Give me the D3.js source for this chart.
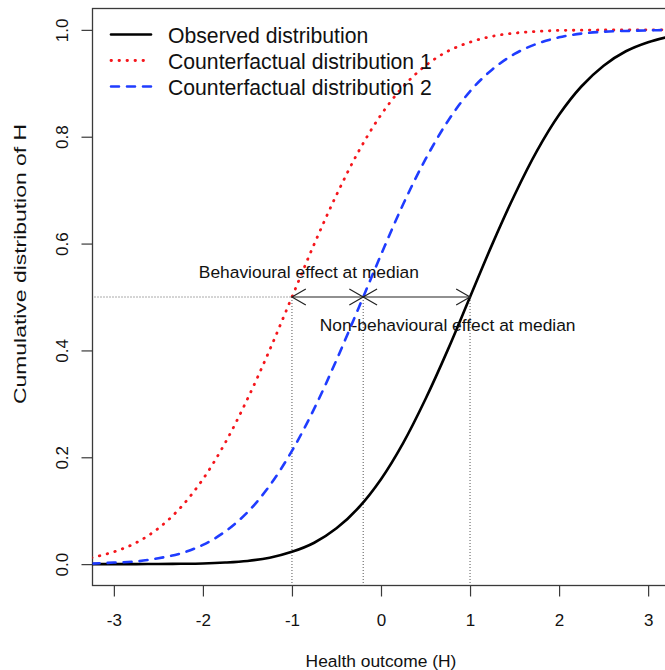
<!DOCTYPE html>
<html><head><meta charset="utf-8">
<script src="https://cdn.jsdelivr.net/npm/d3@7"></script>
<style>
html,body{margin:0;padding:0;background:#fff;}
svg{display:block;font-family:"Liberation Sans",Arial,sans-serif;}
</style></head>
<body><svg id="chart" width="665" height="670"></svg>
<script>
// ---- data ----
const gridH = [-3.25,-3,-2.75,-2.5,-2.25,-2,-1.75,-1.5,-1.25,-1,-0.75,-0.5,-0.25,0,0.25,0.5,0.75,1,1.25,1.5,1.75,2,2.25,2.5,2.75,3,3.25];
const observed = [0.0000,0.0000,0.0001,0.0002,0.0006,0.0013,0.003,0.006,0.012,0.023,0.040,0.067,0.106,0.159,0.227,0.309,0.401,0.500,0.599,0.691,0.773,0.841,0.894,0.933,0.960,0.977,0.988];
const counterfactual1 = [0.012,0.023,0.040,0.067,0.106,0.159,0.227,0.309,0.401,0.500,0.599,0.691,0.773,0.841,0.894,0.933,0.960,0.977,0.988,0.994,0.997,0.999,0.9994,0.9998,1.0,1.0,1.0];
const counterfactual2 = [0.001,0.003,0.005,0.011,0.020,0.036,0.061,0.097,0.147,0.212,0.291,0.382,0.480,0.579,0.674,0.758,0.829,0.885,0.926,0.955,0.974,0.986,0.993,0.9965,0.998,0.999,1.0];
const seriesNames = ["Observed distribution","Counterfactual distribution 1","Counterfactual distribution 2"];
const medians = [1, -1, -0.2]; // observed, cf1, cf2
const xTicks = [-3,-2,-1,0,1,2,3];
const yTicks = [0,0.2,0.4,0.6,0.8,1.0];
const yTickLabels = ["0.0","0.2","0.4","0.6","0.8","1.0"];
const annotations = ["Behavioural effect at median","Non-behavioural effect at median"];

// ---- layout ----
const svg = d3.select("#chart");
const L = 92.5, R = 669.5, T = 8.5, B = 585.5;
const x = d3.scaleLinear().domain([-3.24,3.24]).range([L,R]);
const y = d3.scaleLinear().domain([-0.04,1.04]).range([B,T]);
const axisCol = "#3a3a3a";
const fontTick = 17;

svg.append("defs").append("clipPath").attr("id","clip")
  .append("rect").attr("x",L).attr("y",T).attr("width",R-L).attr("height",B-T);

// axes
const gx = svg.append("g").attr("transform",`translate(0,${B})`)
  .call(d3.axisBottom(x).tickValues(xTicks).tickSize(11).tickSizeOuter(0).tickFormat(d=>d));
gx.select(".domain").remove();
gx.selectAll("line").attr("stroke",axisCol).attr("stroke-width",1.2);
gx.selectAll("text").attr("y",40.5).attr("dy",null).attr("font-size",fontTick)
  .attr("fill","#111").attr("font-family","Liberation Sans, Arial, sans-serif");

const gy = svg.append("g").attr("transform",`translate(${L},0)`)
  .call(d3.axisLeft(y).tickValues(yTicks).tickSize(11).tickSizeOuter(0).tickFormat((d,i)=>yTickLabels[i]));
gy.select(".domain").remove();
gy.selectAll("line").attr("stroke",axisCol).attr("stroke-width",1.2);
gy.selectAll("text").attr("x",null).attr("dy",null).attr("text-anchor","middle")
  .attr("transform","translate(-24.5,0) rotate(-90)").attr("font-size",fontTick)
  .attr("fill","#111").attr("font-family","Liberation Sans, Arial, sans-serif");

// box
svg.append("rect").attr("x",L).attr("y",T).attr("width",R-L).attr("height",B-T)
  .attr("fill","none").attr("stroke",axisCol).attr("stroke-width",1.3);

// axis titles
svg.append("text").attr("x",x(0)).attr("y",667).attr("text-anchor","middle")
  .attr("font-size",17.4).attr("fill","#111").text("Health outcome (H)");
svg.append("text").attr("transform",`translate(26,264) rotate(-90)`).attr("text-anchor","middle")
  .attr("font-size",17.4).attr("textLength",280).attr("lengthAdjust","spacingAndGlyphs")
  .attr("fill","#111").text("Cumulative distribution of H");

// guide lines
const guides = svg.append("g").attr("stroke","#555").attr("stroke-width",1).attr("stroke-dasharray","1,2").attr("fill","none");
guides.append("line").attr("x1",L+2).attr("x2",x(medians[1])).attr("y1",y(0.5)).attr("y2",y(0.5));
medians.forEach(m=>{
  guides.append("line").attr("x1",x(m)).attr("x2",x(m)).attr("y1",y(0.5)).attr("y2",B);
});

// curves
const styles = [
  {data: observed, color:"#000", dash:null, w:2.6},
  {data: counterfactual1, color:"#f5161c", dash:"0.5,7.5", w:2.8},
  {data: counterfactual2, color:"#1f3cff", dash:"8,8", w:2.6}
];
const line = d3.line().x((d,i)=>x(gridH[i])).y(d=>y(d)).curve(d3.curveCatmullRom.alpha(0.5));
const gc = svg.append("g").attr("clip-path","url(#clip)");
styles.forEach(s=>{
  gc.append("path").attr("d",line(s.data)).attr("fill","none").attr("stroke",s.color)
    .attr("stroke-width",s.w).attr("stroke-linecap","round").attr("stroke-dasharray",s.dash);
});

// arrows
const ya = y(0.5);
const ga = svg.append("g").attr("stroke","#222").attr("stroke-width",1.2).attr("fill","none");
function dArrow(a,b){
  const x1=x(a), x2=x(b), len=16, ang=Math.PI/6;
  ga.append("line").attr("x1",x1).attr("x2",x2).attr("y1",ya).attr("y2",ya);
  const hx=len*Math.cos(ang), hy=len*Math.sin(ang);
  ga.append("path").attr("d",`M${x1+hx},${ya-hy}L${x1},${ya}L${x1+hx},${ya+hy}`);
  ga.append("path").attr("d",`M${x2-hx},${ya-hy}L${x2},${ya}L${x2-hx},${ya+hy}`);
}
dArrow(medians[1],medians[2]);
dArrow(medians[2],medians[0]);

svg.append("text").attr("x",x(-0.81)).attr("y",ya-19).attr("text-anchor","middle")
  .attr("font-size",17.4).attr("fill","#111").text(annotations[0]);
svg.append("text").attr("x",x(0.748)).attr("y",ya+34).attr("text-anchor","middle")
  .attr("font-size",17.4).attr("fill","#111").text(annotations[1]);

// legend
const lg = svg.append("g");
styles.forEach((s,i)=>{
  const ly = 34.5 + i*26;
  lg.append("line").attr("x1",111).attr("x2",151).attr("y1",ly).attr("y2",ly)
    .attr("stroke",s.color).attr("stroke-width",s.w).attr("stroke-linecap","round").attr("stroke-dasharray",s.dash);
  lg.append("text").attr("x",168).attr("y",ly+8.5).attr("font-size",21.2).attr("fill","#111").text(seriesNames[i]);
});
</script></body></html>
